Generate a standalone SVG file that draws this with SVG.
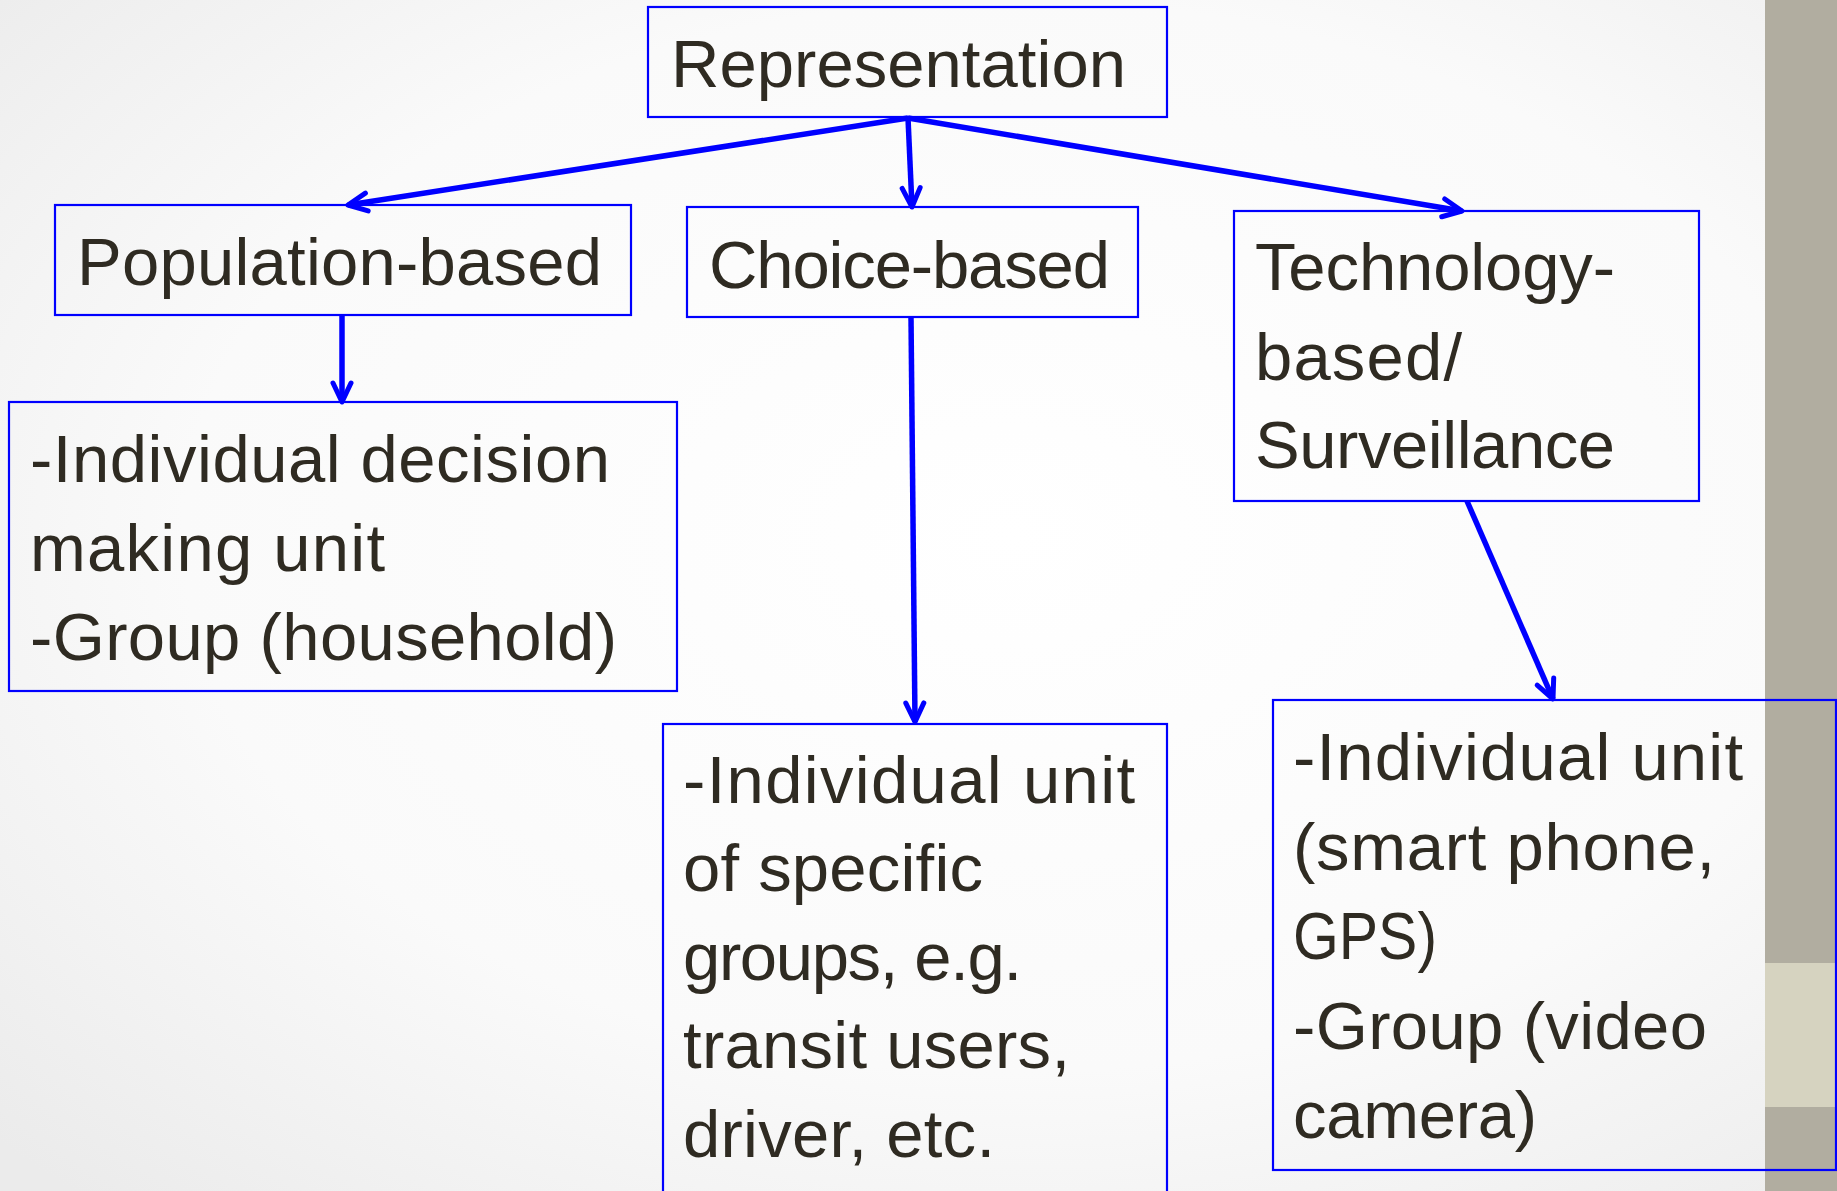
<svg xmlns="http://www.w3.org/2000/svg" width="1837" height="1191" viewBox="0 0 1837 1191">
  <defs>
    <radialGradient id="bg" cx="0.55" cy="0.45" r="0.75">
      <stop offset="0" stop-color="#ffffff"/>
      <stop offset="0.6" stop-color="#fafafa"/>
      <stop offset="1" stop-color="#ebebeb"/>
    </radialGradient>
    <marker id="head" viewBox="0 0 26 26" refX="23" refY="13" markerWidth="26" markerHeight="26" markerUnits="userSpaceOnUse" orient="auto">
      <path d="M4,4 L23,13 L4,22" fill="none" stroke="#0000ff" stroke-width="5" stroke-linecap="round" stroke-linejoin="round"/>
    </marker>
    <style>
      .box { fill: none; stroke: #0000ff; stroke-width: 2.2; }
      .lbl { font-family: "Liberation Sans", Arial, sans-serif; font-size: 67px; fill: #2f2b22; }
      .edge { stroke: #0000ff; stroke-width: 5.5; fill: none; marker-end: url(#head); }
    </style>
  </defs>

  <!-- slide background and side strip -->
  <rect x="0" y="0" width="1837" height="1191" fill="url(#bg)"/>
  <rect x="1765" y="0" width="72" height="1191" fill="#b1ada0"/>
  <rect x="1765" y="963" width="72" height="144" fill="#d6d3c0"/>

  <g id="connectors">
    <line class="edge" x1="908" y1="118" x2="348" y2="205"/>
    <line class="edge" x1="908" y1="118" x2="912" y2="207"/>
    <line class="edge" x1="908" y1="118" x2="1462" y2="211"/>
    <line class="edge" x1="342" y1="315" x2="342" y2="402"/>
    <line class="edge" x1="911" y1="317" x2="915" y2="722"/>
    <line class="edge" x1="1467" y1="501" x2="1553" y2="699"/>
  </g>

  <g id="representation">
    <rect class="box" x="648" y="7" width="519" height="110"/>
    <text class="lbl" x="671" y="87" textLength="455">Representation</text>
  </g>

  <g id="population-based">
    <rect class="box" x="55" y="205" width="576" height="110"/>
    <text class="lbl" x="77" y="285" textLength="525">Population-based</text>
  </g>

  <g id="choice-based">
    <rect class="box" x="687" y="207" width="451" height="110"/>
    <text class="lbl" x="709" y="288" textLength="401">Choice-based</text>
  </g>

  <g id="technology-based">
    <rect class="box" x="1234" y="211" width="465" height="290"/>
    <text class="lbl" x="1255" y="290" textLength="360">Technology-</text>
    <text class="lbl" x="1255" y="380" textLength="207">based/</text>
    <text class="lbl" x="1255" y="468" textLength="360">Surveillance</text>
  </g>

  <g id="population-detail">
    <rect class="box" x="9" y="402" width="668" height="289"/>
    <text class="lbl" x="30" y="482" textLength="580">-Individual decision</text>
    <text class="lbl" x="30" y="571" textLength="355">making unit</text>
    <text class="lbl" x="30" y="660" textLength="587">-Group (household)</text>
  </g>

  <g id="choice-detail">
    <rect class="box" x="663" y="724" width="504" height="500"/>
    <text class="lbl" x="683" y="803" textLength="452">-Individual unit</text>
    <text class="lbl" x="683" y="891" textLength="300">of specific</text>
    <text class="lbl" x="683" y="980" textLength="339">groups, e.g.</text>
    <text class="lbl" x="683" y="1068" textLength="387">transit users,</text>
    <text class="lbl" x="683" y="1157" textLength="312">driver, etc.</text>
  </g>

  <g id="technology-detail">
    <rect class="box" x="1273" y="700" width="563" height="470"/>
    <text class="lbl" x="1293" y="780" textLength="450">-Individual unit</text>
    <text class="lbl" x="1293" y="870" textLength="422">(smart phone,</text>
    <text class="lbl" x="1293" y="959" textLength="144" lengthAdjust="spacingAndGlyphs">GPS)</text>
    <text class="lbl" x="1293" y="1049" textLength="414">-Group (video</text>
    <text class="lbl" x="1293" y="1138" textLength="244">camera)</text>
  </g>
</svg>
